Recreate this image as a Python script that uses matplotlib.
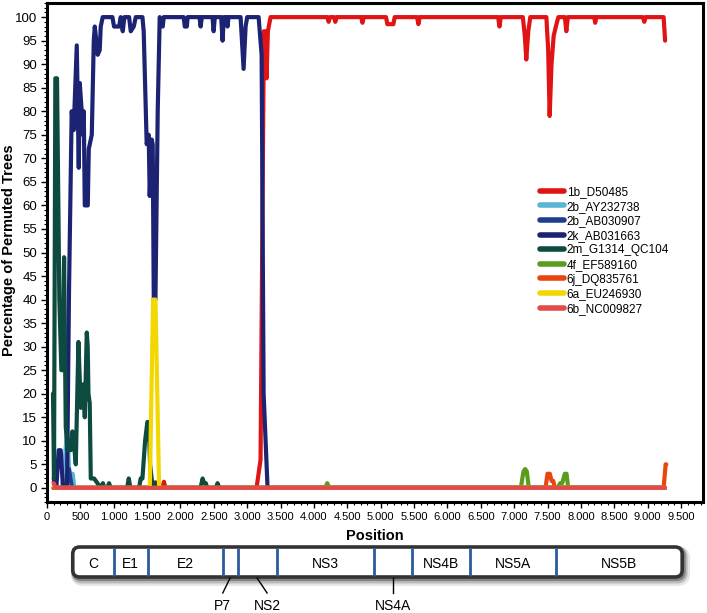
import matplotlib
matplotlib.use("Agg")
import matplotlib.pyplot as plt
from matplotlib.ticker import MultipleLocator, FuncFormatter
from matplotlib.patches import FancyBboxPatch
from matplotlib import font_manager

plt.rcParams['font.family'] = ['Liberation Sans', 'DejaVu Sans']

# ---------------- data ----------------
labels = ["1b_D50485", "2b_AY232738", "2b_AB030907", "2k_AB031663", "2m_G1314_QC104",
          "4f_EF589160", "6j_DQ835761", "6a_EU246930", "6b_NC009827"]
colors = ["#e01414", "#5ab4d4", "#1f3f8e", "#1b2372", "#0d4a40",
          "#5a9c1e", "#e8460e", "#f2d700", "#e54a4a"]

x_1b = [100, 130, 1600, 1625, 1650, 1730, 1752, 1775, 3140, 3200, 3250, 3270, 3290, 3310, 3350,
        4200, 4220, 4240, 4300, 4320, 4340, 4710, 4727, 4745, 5080, 5100, 5140, 5190, 5210,
        5545, 5565, 5585, 6760, 6780, 6800, 7130, 7160, 7182, 7212, 7242, 7483, 7510, 7532,
        7560, 7592, 7625, 7662, 7760, 7782, 7805, 8200, 8215, 8230, 8930, 8950, 8970, 9240, 9262]
y_1b = [1.3, 0, 0, 1.2, 0, 0, 1.3, 0, 0, 6, 97, 97, 87, 97, 100,
        100, 99, 100, 100, 99, 100, 100, 98.8, 100, 100, 98.5, 98.5, 98.5, 100,
        100, 98.5, 100, 100, 98, 100, 100, 96, 91, 97, 100, 100, 93, 79,
        90, 96, 98, 100, 100, 97, 100, 100, 98.8, 100, 100, 99, 100, 100, 95]

x_2b_ay = [100, 230, 260, 295, 310, 330, 355, 385, 410, 9260]
y_2b_ay = [0, 0, 5, 11, 11, 4, 2, 3, 0, 0]

x_2b_ab = [100, 280, 310, 330, 350, 375, 9260]
y_2b_ab = [0, 0, 3, 4, 2, 0, 0]

x_2k = [100, 140, 175, 205, 240, 300, 330, 370, 400, 446, 476, 491, 520, 536, 551, 566, 611,
        626, 671, 701, 716, 760, 790, 805, 835, 980, 1005, 1080, 1105, 1135, 1160, 1230, 1255,
        1300, 1330, 1430, 1449, 1494, 1524, 1539, 1569, 1584, 1600, 1625, 1659, 1689, 1734,
        1749, 2048, 2065, 2095, 2108, 2285, 2302, 2320, 2480, 2497, 2515, 2610, 2631, 2650,
        2690, 2705, 2720, 2901, 2946, 2976, 3000, 3171, 3216, 3246, 3305, 9260]
y_2k = [2, 0, 8, 8, 0, 0, 42, 80, 76, 94, 68, 86, 80, 75, 80, 60, 60,
        72, 75, 95, 98, 92, 93, 98, 100, 100, 98, 98, 100, 97, 100, 100, 97,
        98, 100, 100, 97, 73, 75, 62, 74, 73, 40, 40, 80, 100, 98,
        100, 100, 98, 98, 100, 100, 98, 100, 100, 97, 100, 100, 95, 100,
        100, 98, 100, 100, 89, 98, 100, 100, 92, 20, 0, 0]

x_2m = [90, 105, 125, 150, 185, 215, 235, 256, 281, 307, 330, 356, 381, 400, 431, 471, 506,
        546, 566, 596, 610, 621, 640, 656, 705, 756, 800, 838, 860, 905, 930, 955, 1200, 1225,
        1250, 1380, 1404, 1430, 1470, 1504, 1524, 1545, 1584, 1600, 1620, 1645, 2300, 2332,
        2355, 2380, 2400, 2530, 2556, 2580, 9260]
y_2m = [20, 2, 87, 87, 40, 25, 25, 49, 13, 8, 10, 8, 12, 10, 5, 31, 17,
        22, 15, 33, 30, 20, 18, 2, 2, 1, 0, 1, 0, 0, 1, 0, 0, 2,
        0, 0, 2, 2, 10, 14, 14, 5, 0, 1, 1, 0, 0, 2,
        1, 1, 0, 0, 1, 0, 0]

x_4f = [100, 4170, 4200, 4230, 7100, 7140, 7165, 7190, 7220, 7650, 7690, 7720, 7760, 7785, 7810, 9260]
y_4f = [0, 0, 1, 0, 0, 3.5, 4, 3.5, 0, 0, 1, 1, 3, 3, 0, 0]

x_6j = [100, 7470, 7500, 7535, 7560, 7585, 7610, 9240, 9270, 9280]
y_6j = [0, 0, 3, 3, 1.5, 1.5, 0, 0, 5, 5]

x_6a = [100, 130, 1540, 1590, 1625, 1680, 9260]
y_6a = [0.5, 0, 0, 40, 40, 0, 0]

x_6b = [100, 125, 9262]
y_6b = [1, 0, 0]

gene_names = ["C", "E1", "E2", "P7", "NS2", "NS3", "NS4A", "NS4B", "NS5A", "NS5B"]
gene_bounds = [386, 1000, 1509, 2632, 2856, 3440, 4907, 5476, 6344, 7632, 9518]
callout_genes = ["P7", "NS2", "NS4A"]

x_ticks = list(range(0, 10000, 500))
y_ticks = list(range(0, 101, 5))

# ---------------- figure ----------------
W, H = 707, 613
fig = plt.figure(figsize=(W / 100, H / 100), dpi=100)
ax = fig.add_axes([47 / W, 1 - 502 / H, 656 / W, 499 / H])

series_x = [x_1b, x_2b_ay, x_2b_ab, x_2k, x_2m, x_4f, x_6j, x_6a, x_6b]
series_y = [y_1b, y_2b_ay, y_2b_ab, y_2k, y_2m, y_4f, y_6j, y_6a, y_6b]
handles = []
for xs, ys, lab, col in zip(series_x, series_y, labels, colors):
    ln, = ax.plot(xs, ys, color=col, lw=3.0, solid_joinstyle='round',
                  solid_capstyle='round', label=lab)
    handles.append(ln)

XMAX = 9830
ax.set_xlim(0, XMAX)
ax.set_ylim(-3, 103)
ax.set_xticks(x_ticks)
ax.set_yticks(y_ticks)
ax.xaxis.set_minor_locator(MultipleLocator(100))
ax.yaxis.set_minor_locator(MultipleLocator(1))
ax.xaxis.set_major_formatter(FuncFormatter(lambda v, p: f"{int(v):,}".replace(",", ".")))
for s in ax.spines.values():
    s.set_linewidth(2.2)
ax.tick_params(which='major', direction='out', length=4, width=1, pad=3)
ax.tick_params(which='minor', direction='out', length=2.5, width=0.8)
ax.tick_params(axis='y', labelsize=9.5)

names = {f.name for f in font_manager.fontManager.ttflist}
if 'Liberation Sans Narrow' in names:
    xfam, xsize = ['Liberation Sans Narrow', 'DejaVu Sans'], 9
else:
    xfam, xsize = ['Liberation Sans', 'DejaVu Sans'], 8
for t in ax.get_xticklabels():
    t.set_fontfamily(xfam)
    t.set_fontsize(xsize)

ax.set_xlabel("Position", fontsize=10.5, fontweight='bold', labelpad=5)
ax.set_ylabel("Percentage of Permuted Trees", fontsize=10.5, fontweight='bold', va='center')
ax.yaxis.set_label_coords(-0.058, 0.505)

leg = ax.legend(handles=handles, loc='upper left', bbox_to_anchor=(540 / W, 1 - 186 / H),
                bbox_transform=fig.transFigure, frameon=False, fontsize=8.5,
                handlelength=2.0, handletextpad=0.25, labelspacing=0.22,
                borderpad=0, borderaxespad=0)
for lh in leg.get_lines():
    lh.set_linewidth(4)

# ---------------- genome map ----------------
gx = fig.add_axes([47 / W, 0, 656 / W, 83 / H])
gx.set_xlim(0, XMAX)
gx.set_ylim(0, 83)
gx.axis('off')
xpp = XMAX / 656.0
ypp = 1.0
box_y0, box_y1 = 36, 66
x0, x1 = gene_bounds[0], gene_bounds[-1]
r = 7 * xpp
for k, (dx, dy, a, lw) in enumerate([(3, -4, 0.10, 7), (2, -3, 0.18, 5), (1.5, -2, 0.3, 3)]):
    sh = FancyBboxPatch((x0 + dx * xpp, box_y0 + dy), x1 - x0, box_y1 - box_y0,
                        boxstyle=f"round,pad=0,rounding_size={r}", mutation_aspect=ypp / xpp,
                        fc='none', ec='black', lw=lw, alpha=a, zorder=1)
    gx.add_patch(sh)
box = FancyBboxPatch((x0, box_y0), x1 - x0, box_y1 - box_y0,
                     boxstyle=f"round,pad=0,rounding_size={r}", mutation_aspect=ypp / xpp,
                     fc='white', ec='#333333', lw=2.6, zorder=2)
gx.add_patch(box)
for b in gene_bounds[1:-1]:
    gx.plot([b, b], [box_y0 + 1.2, box_y1 - 1.2], color='#2d5c9c', lw=2.0, zorder=3,
            solid_capstyle='butt')
callout_dx = {"P7": -110, "NS2": 150, "NS4A": 0}
for i, name in enumerate(gene_names):
    cx = (gene_bounds[i] + gene_bounds[i + 1]) / 2
    if name in callout_genes:
        dx = callout_dx[name]
        gx.plot([cx, cx + dx], [box_y0 - 1, box_y0 - 16], color='black', lw=1, zorder=3)
        gx.text(cx + dx, 7, name, ha='center', va='center', fontsize=10, zorder=3)
    else:
        gx.text(cx, 49, name, ha='center', va='center', fontsize=10, zorder=3)

fig.savefig("out.png", dpi=100)
